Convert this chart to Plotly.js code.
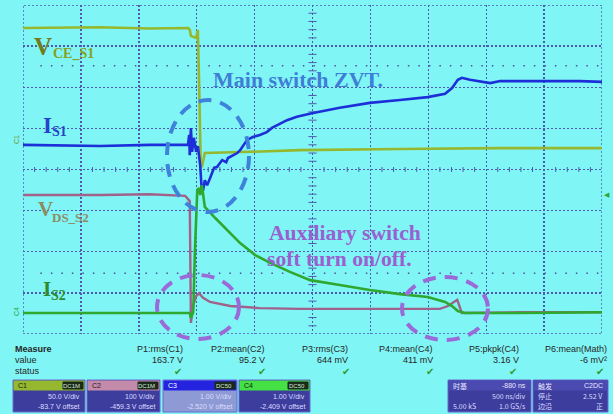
<!DOCTYPE html>
<html><head><meta charset="utf-8">
<script src="https://cdn.plot.ly/plotly-3.0.1.min.js"></script>
<style>html,body{margin:0;padding:0;background:#80f5f5;overflow:hidden}</style>
</head><body><div id="chart" style="width:613px;height:414px;"></div>
<script>
// ---- waveform data: time in divisions (10 div), amplitude in divisions (8 div) ----
const vceS1_t = [0,1.33,2.19,2.85,2.88,2.90,2.99,3.02,3.04,3.06,3.07,3.09,3.11,3.14,3.92,4.78,6.51,8.24,10];
const vceS1_v = [7.44,7.46,7.43,7.44,7.40,7.25,7.20,7.39,6.18,4.47,4.11,4.06,4.23,4.40,4.43,4.47,4.50,4.52,4.52];

const vdsS2_t = [0,1.33,2.19,2.80,2.85,2.88,2.90,2.94,2.99,3.04,3.11,3.23,3.58,4.09,4.78,6.51,7.20,7.34,7.41,7.50,7.55,7.58,8.58,10];
const vdsS2_v = [3.38,3.38,3.40,3.36,3.28,3.23,0.27,0.70,0.92,0.99,0.88,0.78,0.68,0.63,0.61,0.61,0.61,0.68,0.75,0.83,0.63,0.51,0.53,0.53];

const iS1_t = [0,1.33,2.19,2.85,2.87,2.88,2.90,2.92,2.95,2.99,3.02,3.06,3.09,3.11,3.14,3.18,3.23,3.30,3.35,3.44,3.51,3.54,3.70,3.75,3.87,3.97,4.09,4.21,4.30,4.39,4.56,4.73,4.99,5.47,5.99,6.51,6.99,7.29,7.41,7.51,7.58,7.72,8.07,8.24,8.93,9.62,10];
const iS1_v = [4.60,4.57,4.60,4.60,4.84,4.35,5.01,4.43,4.77,4.43,4.57,4.11,3.43,3.50,3.74,3.62,3.79,4.04,4.06,4.23,4.18,4.28,4.40,4.47,4.72,4.79,4.84,4.91,5.01,5.08,5.20,5.28,5.37,5.50,5.62,5.69,5.76,5.84,5.98,6.18,6.23,6.18,6.10,6.15,6.15,6.15,6.13];

const iS2_t = [0,1.33,2.19,2.88,2.90,2.94,2.97,3.01,3.04,3.06,3.09,3.13,3.14,3.32,3.49,3.75,4.01,4.27,4.61,4.96,5.47,5.99,6.51,6.99,7.29,7.41,7.51,7.63,8.58,10];
const iS2_v = [0.51,0.51,0.51,0.51,0.39,0.53,2.04,3.50,3.55,3.38,3.62,3.14,3.09,2.82,2.58,2.21,1.92,1.73,1.51,1.31,1.19,1.07,0.97,0.90,0.78,0.68,0.56,0.51,0.51,0.53];

// ---- measurement table ----
const measRows = ["Measure","value","status"];
const measNames = ["P1:rms(C1)","P2:mean(C2)","P3:rms(C3)","P4:mean(C4)","P5:pkpk(C4)","P6:mean(Math)"];
const measValues = ["163.7 V","95.2 V","644 mV","411 mV","3.16 V","-6 mV²"];
const measStatus = ["✔","✔","✔","✔","✔","✔"];

// ---- channel / timebase / trigger boxes ----
const chanNames = ["C1","C2","C3","C4"];
const chanCoupling = ["DC1M","DC1M","DC50","DC50"];
const chanScale = ["50.0 V/div","100 V/div","1.00 V/div","1.00 V/div"];
const chanOffset = ["-83.7 V offset","-459.3 V offset","-2.520 V offset","-2.409 V offset"];
const tbHeader = ["时基","-880 ns"];
const tbLines = [["","500 ns/div"],["5.00 kS","1.0 GS/s"]];
const trHeader = ["触发","C2DC"];
const trLines = [["停止","2.52 V"],["边沿","正"]];

// ---- colours ----
const colC1 = "#95b82e", colC2 = "#a0628a", colC3 = "#1c2fd8", colC4 = "#2ea82e";
const bg = "#80f5f5", gridCol = "#4f5aae";

const W = 613, H = 414;
const PX = x => x / W, PY = y => 1 - y / H;

const traces = [
  {x: vceS1_t, y: vceS1_v, name: "VCE_S1", line: {color: colC1, width: 2.6}},
  {x: vdsS2_t, y: vdsS2_v, name: "VDS_S2", line: {color: colC2, width: 2.4}},
  {x: iS1_t, y: iS1_v, name: "IS1", line: {color: colC3, width: 2.6}},
  {x: iS2_t, y: iS2_v, name: "IS2", line: {color: colC4, width: 2.6}}
].map(t => Object.assign({type: "scatter", mode: "lines", hoverinfo: "skip", showlegend: false}, t));

const shapes = [];
// frame
shapes.push({type: "rect", xref: "x", yref: "y", x0: 0, x1: 10, y0: 0, y1: 8,
  line: {color: gridCol, width: 1.4, dash: "2px,2px"}, layer: "below"});
// center-line minor ticks
for (let i = 1; i < 50; i++) {
  if (i % 5 === 0) continue;
  const xv = i * 0.2;
  shapes.push({type: "line", xref: "x", yref: "y", x0: xv, x1: xv, y0: 3.94, y1: 4.06,
    line: {color: gridCol, width: 1}, layer: "below"});
}
for (let i = 1; i < 40; i++) {
  if (i % 5 === 0) continue;
  const yv = i * 0.2;
  shapes.push({type: "line", xref: "x", yref: "y", x0: 4.93, x1: 5.07, y0: yv, y1: yv,
    line: {color: gridCol, width: 1}, layer: "below"});
}
// sparse dotted level lines
[6.52, 1.48].forEach(yv => shapes.push({type: "line", xref: "x", yref: "y", x0: 0.3, x1: 10, y0: yv, y1: yv,
  line: {color: "#5050a0", width: 1.5, dash: "1.5px,9px"}, layer: "below"}));

// dashed highlight ellipses
function ellipse(x0, x1, y0, y1, col) {
  shapes.push({type: "circle", xref: "paper", yref: "paper", x0: PX(x0), x1: PX(x1), y0: PY(y1), y1: PY(y0),
    line: {color: col, width: 4, dash: "13px,9px"}, layer: "above"});
}
ellipse(167, 249, 100, 212, "#3f82dc");
ellipse(157, 239, 275, 339, "#9a6ad8");
ellipse(402, 488, 277, 340, "#9a6ad8");

const ann = [];
function txt(text, x, y, size, color, opts) {
  ann.push(Object.assign({text: text, xref: "paper", yref: "paper", x: PX(x), y: PY(y), showarrow: false,
    xanchor: "left", yanchor: "middle", font: {family: "Liberation Serif", size: size, color: color}}, opts || {}));
}
// trace labels
const bold = s => "<b>" + s + "</b>";
txt(bold("V"), 32, 46, 25, "#6f7d1c");
txt(bold("CE_S1"), 51, 53, 14, "#87a020");
txt(bold("I"), 41, 125, 23, "#2444c8");
txt(bold("S1"), 50, 131, 14, "#2444c8");
txt(bold("V"), 36, 209, 21, "#8e8a62");
txt(bold("DS_S2"), 50, 217, 13, "#8e8a62");
txt(bold("I"), 41, 289, 21, "#2f8a2f");
txt(bold("S2"), 49, 295, 14, "#2f8a2f");
txt(bold("Main switch ZVT."), 211, 80, 22, "#3f7ed6");
txt(bold("Auxiliary switch"), 267, 233, 21.6, "#9a5fd0");
txt(bold("soft turn on/off."), 265, 259, 21.6, "#9a5fd0");
// channel markers at left / trigger marker at right
txt("C1", 17, 140, 7, colC1, {textangle: -90, xanchor: "center", font: {family: "Liberation Sans", size: 7, color: "#6a9a20"}});
txt("C4", 16, 312, 7, colC4, {textangle: -90, xanchor: "center", font: {family: "Liberation Sans", size: 7, color: colC4}});
txt("◀", 607, 195, 7, colC4, {xanchor: "center", font: {family: "DejaVu Sans", size: 7, color: colC4}});

// measurement table
const sans = (size, color) => ({family: "Liberation Sans", size: size, color: color});
const rowY = [349, 360, 371];
const tcol = "#262626";
measRows.forEach((r, i) => txt(i === 0 ? "<b>" + r + "</b>" : r, 13, rowY[i], 9, tcol, {font: sans(9, tcol)}));
const colRight = [185, 267, 350, 435, 521, 609];
const checkX = [178, 262, 346, 430, 513, 600];
measNames.forEach((n, i) => {
  txt(n, colRight[i], rowY[0], 9, tcol, {xanchor: "right", font: sans(9, tcol)});
  txt(measValues[i], colRight[i], rowY[1], 9, tcol, {xanchor: "right", font: sans(9, tcol)});
  txt(measStatus[i], checkX[i], rowY[2], 9, "#2f9a2f", {xanchor: "center", font: {family: "DejaVu Sans", size: 10, color: "#2f9a2f"}});
});

// channel descriptor boxes
const boxX = [[13, 85], [87, 160], [163, 237], [239, 310]];
const headCol = [colC1, "#c48aaa", "#2424e0", "#44e044"];
const bodyCol = ["#3d3d9e", "#3d3d9e", "#8e9ad4", "#3d3d9e"];
function rect(x0, x1, y0, y1, fill, lc) {
  shapes.push({type: "rect", xref: "paper", yref: "paper", x0: PX(x0), x1: PX(x1), y0: PY(y1), y1: PY(y0),
    fillcolor: fill, line: {color: lc || fill, width: 1}, layer: "above"});
}
chanNames.forEach((c, i) => {
  const [a, b] = boxX[i];
  rect(a, b, 380, 412, bodyCol[i], "#6a6ad0");
  rect(a + 1, b - 1, 381, 390, headCol[i]);
  rect(b - 22, b - 2, 382, 389, "#1a2a1a");
  txt(c, a + 3, 385.5, 7, "#fff", {font: sans(7, i === 2 ? "#fff" : "#1a1a1a")});
  txt(chanCoupling[i], b - 3, 385.5, 6, "#ddd", {xanchor: "right", font: sans(6, "#d8e8d8")});
  txt(chanScale[i], b - 3, 396, 7, "#e0e0ff", {xanchor: "right", font: sans(7, "#dcdcff")});
  txt(chanOffset[i], b - 3, 406, 7, "#e0e0ff", {xanchor: "right", font: sans(7, "#dcdcff")});
});
// timebase and trigger boxes
const cjk = (size, color) => ({family: "Noto Sans CJK SC", size: size, color: color});
[[448, 531, tbHeader, tbLines], [533, 608, trHeader, trLines]].forEach(([a, b, hd, lines]) => {
  rect(a, b, 380, 412, "#3d3d9e", "#6a6ad0");
  rect(a + 1, b - 1, 381, 390, "#4a4ab0");
  txt(hd[0], a + 3, 385.5, 7, "#fff", {font: cjk(7, "#e8e8ff")});
  txt(hd[1], b - 3, 385.5, 7, "#fff", {xanchor: "right", font: sans(7, "#e8e8ff")});
  lines.forEach((ln, k) => {
    const yy = [396, 406][k];
    if (ln[0]) txt(ln[0], a + 3, yy, 7, "#fff", {font: cjk(7, "#dcdcff")});
    txt(ln[1], b - 3, yy, 7, "#fff", {xanchor: "right", font: cjk(7, "#dcdcff")});
  });
});

const axisBase = {showgrid: true, griddash: "2px,2px", gridcolor: gridCol, gridwidth: 1.4, zeroline: false,
  showticklabels: false, ticks: "", showline: false, fixedrange: true, dtick: 1, tick0: 0};
const layout = {
  width: W, height: H, margin: {l: 0, r: 0, t: 0, b: 0},
  paper_bgcolor: bg, plot_bgcolor: bg, showlegend: false,
  xaxis: Object.assign({}, axisBase, {domain: [PX(23), PX(602)], range: [0, 10]}),
  yaxis: Object.assign({}, axisBase, {domain: [PY(334), PY(5)], range: [0, 8]}),
  shapes: shapes, annotations: ann
};
Plotly.newPlot("chart", traces, layout, {staticPlot: true, displayModeBar: false});
</script></body></html>
